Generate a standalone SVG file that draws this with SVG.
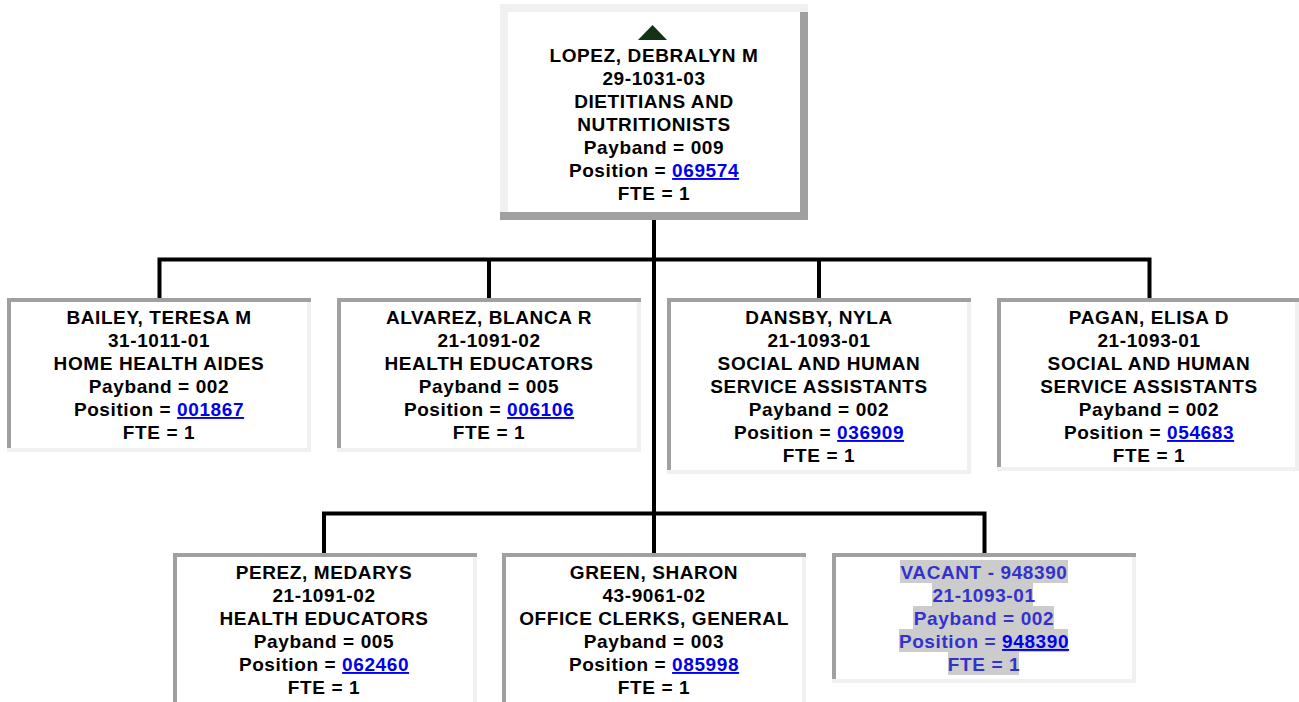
<svg xmlns="http://www.w3.org/2000/svg" width="1299" height="702" viewBox="0 0 1299 702">
<style>
.t{font-family:"Liberation Sans",Arial,sans-serif;font-weight:bold;font-size:19px;letter-spacing:0.6px;text-anchor:middle;fill:#000}
.v{fill:#3333cc}
.a{fill:#0000ee;text-decoration:underline}
.dk{fill:#a0a0a0}
.lt{fill:#f0f0f0}
.bg{fill:#fff}
.hl{fill:#cccccc}
.c{stroke:#000;stroke-width:4;fill:none}
</style>
<rect width="1299" height="702" fill="#fff"/>
<g id="connectors">
<path class="c" d="M654 220V553"/>
<path class="c" d="M157.5 259.5H1151.5M159.5 259.5V298M489 259.5V298M819 259.5V298M1149.5 259.5V298"/>
<path class="c" d="M322 513.5H986.5M324 513.5V553M984.5 513.5V553"/>
</g>
<g id="lopez">
<rect class="bg" x="500" y="4" width="308" height="216"/>
<rect class="lt" x="500" y="4" width="308" height="8"/>
<rect class="lt" x="500" y="4" width="8" height="216"/>
<rect class="dk" x="800" y="12" width="8" height="208"/>
<rect class="dk" x="500" y="212" width="308" height="8"/>
<path d="M652.5 25L667 40H638Z" fill="#143214"/>
<text class="t" x="654" y="62">LOPEZ, DEBRALYN M</text>
<text class="t" x="654" y="85">29-1031-03</text>
<text class="t" x="654" y="108">DIETITIANS AND</text>
<text class="t" x="654" y="131">NUTRITIONISTS</text>
<text class="t" x="654" y="154">Payband = 009</text>
<text class="t" x="654" y="177">Position = <tspan class="a">069574</tspan></text>
<text class="t" x="654" y="200">FTE = 1</text>
</g>
<g id="bailey">
<rect class="bg" x="7" y="298" width="304" height="154"/>
<rect class="dk" x="7" y="298" width="4" height="154"/>
<rect class="lt" x="307" y="298" width="4" height="154"/>
<rect class="dk" x="7" y="298" width="304" height="4"/>
<rect class="lt" x="7" y="448" width="304" height="4"/>
<text class="t" x="159" y="324">BAILEY, TERESA M</text>
<text class="t" x="159" y="347">31-1011-01</text>
<text class="t" x="159" y="370">HOME HEALTH AIDES</text>
<text class="t" x="159" y="393">Payband = 002</text>
<text class="t" x="159" y="416">Position = <tspan class="a">001867</tspan></text>
<text class="t" x="159" y="439">FTE = 1</text>
</g>
<g id="alvarez">
<rect class="bg" x="337" y="298" width="304" height="154"/>
<rect class="dk" x="337" y="298" width="4" height="154"/>
<rect class="lt" x="637" y="298" width="4" height="154"/>
<rect class="dk" x="337" y="298" width="304" height="4"/>
<rect class="lt" x="337" y="448" width="304" height="4"/>
<text class="t" x="489" y="324">ALVAREZ, BLANCA R</text>
<text class="t" x="489" y="347">21-1091-02</text>
<text class="t" x="489" y="370">HEALTH EDUCATORS</text>
<text class="t" x="489" y="393">Payband = 005</text>
<text class="t" x="489" y="416">Position = <tspan class="a">006106</tspan></text>
<text class="t" x="489" y="439">FTE = 1</text>
</g>
<g id="dansby">
<rect class="bg" x="667" y="298" width="304" height="176"/>
<rect class="dk" x="667" y="298" width="4" height="176"/>
<rect class="lt" x="967" y="298" width="4" height="176"/>
<rect class="dk" x="667" y="298" width="304" height="4"/>
<rect class="lt" x="667" y="470" width="304" height="4"/>
<text class="t" x="819" y="324">DANSBY, NYLA</text>
<text class="t" x="819" y="347">21-1093-01</text>
<text class="t" x="819" y="370">SOCIAL AND HUMAN</text>
<text class="t" x="819" y="393">SERVICE ASSISTANTS</text>
<text class="t" x="819" y="416">Payband = 002</text>
<text class="t" x="819" y="439">Position = <tspan class="a">036909</tspan></text>
<text class="t" x="819" y="462">FTE = 1</text>
</g>
<g id="pagan">
<rect class="bg" x="997" y="298" width="304" height="173"/>
<rect class="dk" x="997" y="298" width="4" height="173"/>
<rect class="lt" x="1295" y="298" width="4" height="173"/>
<rect class="dk" x="997" y="298" width="304" height="4"/>
<rect class="lt" x="997" y="467" width="304" height="4"/>
<text class="t" x="1149" y="324">PAGAN, ELISA D</text>
<text class="t" x="1149" y="347">21-1093-01</text>
<text class="t" x="1149" y="370">SOCIAL AND HUMAN</text>
<text class="t" x="1149" y="393">SERVICE ASSISTANTS</text>
<text class="t" x="1149" y="416">Payband = 002</text>
<text class="t" x="1149" y="439">Position = <tspan class="a">054683</tspan></text>
<text class="t" x="1149" y="462">FTE = 1</text>
</g>
<g id="perez">
<rect class="bg" x="173" y="553" width="304" height="160"/>
<rect class="dk" x="173" y="553" width="4" height="160"/>
<rect class="lt" x="473" y="553" width="4" height="160"/>
<rect class="dk" x="173" y="553" width="304" height="4"/>
<text class="t" x="324" y="579">PEREZ, MEDARYS</text>
<text class="t" x="324" y="602">21-1091-02</text>
<text class="t" x="324" y="625">HEALTH EDUCATORS</text>
<text class="t" x="324" y="648">Payband = 005</text>
<text class="t" x="324" y="671">Position = <tspan class="a">062460</tspan></text>
<text class="t" x="324" y="694">FTE = 1</text>
</g>
<g id="green">
<rect class="bg" x="502" y="553" width="304" height="160"/>
<rect class="dk" x="502" y="553" width="4" height="160"/>
<rect class="lt" x="802" y="553" width="4" height="160"/>
<rect class="dk" x="502" y="553" width="304" height="4"/>
<text class="t" x="654" y="579">GREEN, SHARON</text>
<text class="t" x="654" y="602">43-9061-02</text>
<text class="t" x="654" y="625">OFFICE CLERKS, GENERAL</text>
<text class="t" x="654" y="648">Payband = 003</text>
<text class="t" x="654" y="671">Position = <tspan class="a">085998</tspan></text>
<text class="t" x="654" y="694">FTE = 1</text>
</g>
<g id="vacant">
<rect class="bg" x="832" y="553" width="304" height="130"/>
<rect class="dk" x="832" y="553" width="4" height="130"/>
<rect class="lt" x="1132" y="553" width="4" height="130"/>
<rect class="dk" x="832" y="553" width="304" height="4"/>
<rect class="lt" x="832" y="679" width="304" height="4"/>
<rect class="hl" x="900" y="560" width="168" height="23"/>
<rect class="hl" x="932" y="583" width="101" height="23"/>
<rect class="hl" x="913" y="606" width="141" height="23"/>
<rect class="hl" x="899" y="629" width="169" height="23"/>
<rect class="hl" x="948" y="652" width="71" height="23"/>
<text class="t v" x="984" y="579">VACANT - 948390</text>
<text class="t v" x="984" y="602">21-1093-01</text>
<text class="t v" x="984" y="625">Payband = 002</text>
<text class="t v" x="984" y="648">Position = <tspan class="a">948390</tspan></text>
<text class="t v" x="984" y="671">FTE = 1</text>
</g>
</svg>
